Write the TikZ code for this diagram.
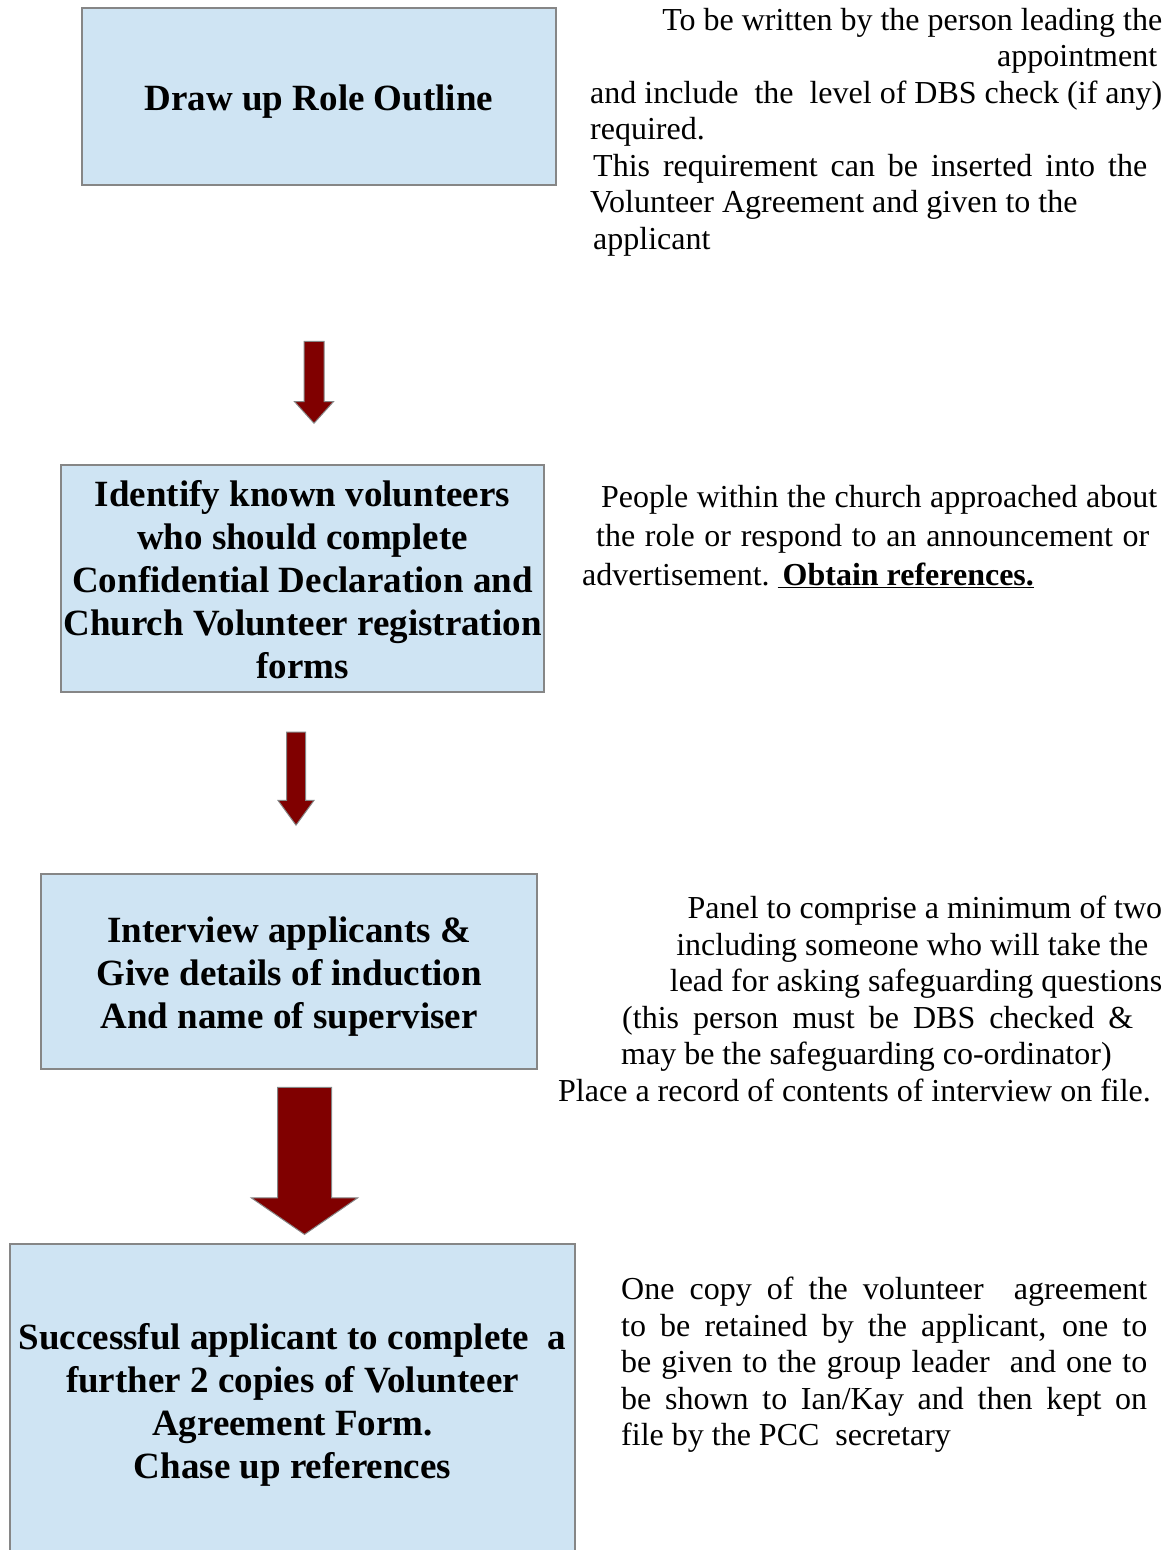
\documentclass[tikz,border=0pt]{standalone}
\usepackage{fontspec}
\setmainfont{Liberation Serif}
\usetikzlibrary{shapes.arrows}
\definecolor{boxblue}{RGB}{207,228,243}
\definecolor{arrowred}{RGB}{128,0,0}
\definecolor{edgegray}{RGB}{134,134,134}

\begin{document}
\begin{tikzpicture} [x = 1pt, y = -1pt,
  box/.style = {draw = edgegray, line width = 1.3pt, fill = boxblue, inner sep = 0pt, align = center, font = \fontsize{37}{43}\selectfont\bfseries},
  blk/.style = {single arrow, rotate = -90, anchor = tip, fill = arrowred, draw = edgegray, line width = 1pt, inner xsep = 0pt, single arrow head indent = 0pt},
  note/.style = {anchor = north west, inner sep = 0pt, align = left, font = \fontsize{32}{36.5}\selectfont, execute at begin node = {\spaceskip 0pt\xspaceskip 0pt}}]
\useasboundingbox (0,0) rectangle (1174,1550);
\clip (0,0) rectangle (1174,1550);
\node[box, minimum width = 474pt, minimum height = 177pt] (b1) at (319,96.5) {\rule{0pt}{35pt}Draw up Role Outline};
\node[box, minimum width = 483pt, minimum height = 227pt] (b2) at (302.5,578.5) {\rule{0pt}{28pt}Identify known volunteers\\who should complete\\Confidential Declaration and\\Church Volunteer registration\\forms};
\node[box, minimum width = 496pt, minimum height = 195pt] (b3) at (289,971.5) {\rule{0pt}{35pt}Interview applicants \&\\Give details of induction\\And name of superviser};
\node[box, minimum width = 565pt, minimum height = 316pt] (b4) at (292.5,1402) {\rule{0pt}{32pt}Successful applicant to complete~ a\\further 2 copies of Volunteer\\Agreement Form.\\Chase up references};
\node[blk, inner ysep = 9.5pt, single arrow head extend = 9.5pt, minimum height = 82pt, single arrow tip angle = 84] (a1) at (314,424) {};
\node[blk, inner ysep = 9pt, single arrow head extend = 8.5pt, minimum height = 93pt, single arrow tip angle = 72] (a2) at (296,826) {};
\node[blk, inner ysep = 26.5pt, single arrow head extend = 26pt, minimum height = 147pt, single arrow tip angle = 111] (a3) at (304.5,1235) {};
\node[note, text width = 572pt] (n1) at (590,8) {\hspace*{\fill}To be written by the person leading the\\
\hspace*{\fill}appointment\hspace*{5pt}\mbox{}\\
\makebox[572pt][s]{and include~ the~ level of DBS check (if any)}\\
required.\\
\hspace*{3pt}\makebox[554pt][s]{This requirement can be inserted into the}\\
Volunteer Agreement and given to the\\
\hspace*{3pt}applicant};
\node[note, text width = 580pt, font = \fontsize{32}{39}\selectfont] (n2) at (582,485) {\hspace*{19pt}\makebox[556pt][s]{People within the church approached about}\\
\hspace*{14pt}\makebox[553pt][s]{the role or respond to an announcement or}\\
advertisement.\ \underline{\textbf{\hspace{5pt}Obtain references.}}};
\node[note, text width = 604pt] (n3) at (558,896) {\hspace*{\fill}Panel to comprise a minimum of two\\
\hspace*{\fill}including someone who will take the\hspace*{14pt}\mbox{}\\
\hspace*{\fill}lead for asking safeguarding questions\\
\hspace*{64pt}\makebox[511pt][s]{(this person must be DBS checked \&}\\
\hspace*{63pt}may be the safeguarding co-ordinator)\\
Place a record of contents of interview on file.};
\node[note, text width = 526pt] (n4) at (621,1277) {\makebox[526pt][s]{One copy of the volunteer~ agreement}\\
\makebox[526pt][s]{to be retained by the applicant, one to}\\
\makebox[526pt][s]{be given to the group leader~ and one to}\\
\makebox[526pt][s]{be shown to Ian/Kay and then kept on}\\
file by the PCC~ secretary};
\end{tikzpicture}
\end{document}
